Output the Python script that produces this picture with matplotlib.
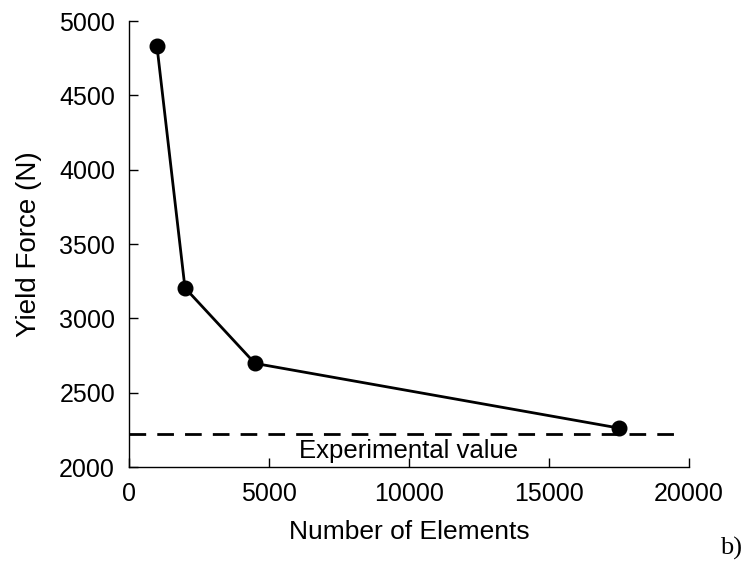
import matplotlib
matplotlib.use("Agg")
import matplotlib.pyplot as plt

elements = [1000, 2000, 4500, 17500]
yield_force = [4830, 3205, 2697, 2262]
experimental = 2220
xticks = [0, 5000, 10000, 15000, 20000]
yticks = [2000, 2500, 3000, 3500, 4000, 4500, 5000]

plt.rcParams['font.family'] = ['Liberation Sans', 'DejaVu Sans']

fig = plt.figure(figsize=(7.52, 5.71), dpi=100)
ax = fig.add_axes([0.1715, 0.1821, 0.7447, 0.7811])

ax.plot(elements, yield_force, color='black', lw=2.0, marker='o', markersize=10.5)
ax.plot([0, 19600], [experimental, experimental], color='black', lw=2.0,
        linestyle=(0, (6, 4)))
ax.text(10000, 2108, 'Experimental value', ha='center', va='center', fontsize=18.5)

ax.set_xlim(0, 20000)
ax.set_ylim(2000, 5000)
ax.set_xticks(xticks)
ax.set_yticks(yticks)
for s in ['top', 'right']:
    ax.spines[s].set_visible(False)
for s in ['left', 'bottom']:
    ax.spines[s].set_linewidth(1.0)
ax.tick_params(direction='in', length=6.5, width=1.0, labelsize=18, pad=10)
ax.tick_params(axis='x', pad=11)

ax.set_xlabel('Number of Elements', fontsize=19, labelpad=10)
ax.set_ylabel('Yield Force (N)', fontsize=20, labelpad=12)

fig.text(0.972, 0.039, 'b)', family=['Liberation Serif'], fontsize=19, ha='center', va='center')

fig.savefig('out.png', dpi=100)
